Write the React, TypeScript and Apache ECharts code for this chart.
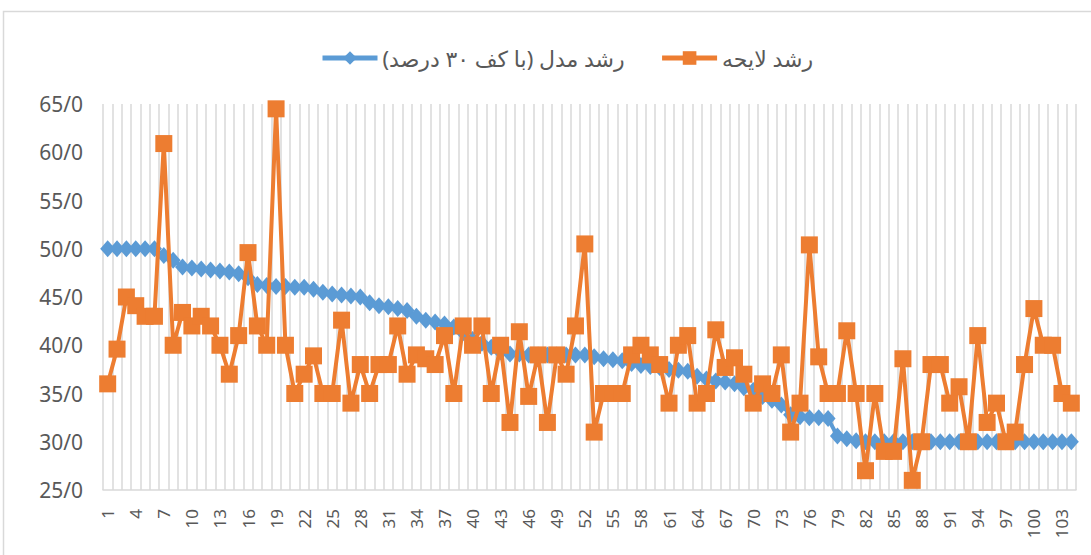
import React, { useEffect, useRef } from "react";
import * as echarts from "echarts";

const categories: string[] = Array.from({ length: 104 }, (_, i) => String(i + 1));

const modelGrowth: number[] = [
  50, 50, 50, 50, 50, 50, 49.3, 48.8, 48.1, 48.0,
  47.9, 47.8, 47.7, 47.6, 47.4, 47.0, 46.3, 46.2, 46.1, 46.1,
  46.0, 46.0, 45.8, 45.5, 45.3, 45.2, 45.1, 45.0, 44.4, 44.1,
  44.0, 43.8, 43.6, 43.0, 42.6, 42.4, 42.2, 41.9, 41.3, 40.6,
  40.2, 39.8, 39.3, 39.1, 39.1, 39.0, 39.0, 39.0, 39.0, 39.0,
  39.0, 39.0, 38.8, 38.6, 38.5, 38.4, 38.1, 37.9, 37.8, 37.7,
  37.5, 37.4, 37.3, 36.8, 36.5, 36.3, 36.2, 36.0, 35.6, 35.3,
  34.7, 34.3, 33.8, 32.8, 32.6, 32.5, 32.5, 32.4, 30.6, 30.3,
  30.1, 30, 30, 30, 30, 30, 30, 30, 30, 30,
  30, 30, 30, 30, 30, 30, 30, 30, 30, 30,
  30, 30, 30, 30,
];

const billGrowth: number[] = [
  36.0, 39.6, 45.0, 44.1, 43.0, 43.0, 60.9, 40.0, 43.4, 42.0,
  43.0, 42.0, 40.0, 37.0, 41.0, 49.6, 42.0, 40.0, 64.5, 40.0,
  35.0, 37.0, 38.9, 35.0, 35.0, 42.6, 34.0, 38.0, 35.0, 38.0,
  38.0, 42.0, 37.0, 39.0, 38.6, 38.0, 41.0, 35.0, 42.0, 40.0,
  42.0, 35.0, 40.0, 32.0, 41.4, 34.7, 39.0, 32.0, 39.0, 37.0,
  42.0, 50.5, 31.0, 35.0, 35.0, 35.0, 39.0, 40.0, 39.0, 38.0,
  34.0, 40.0, 41.0, 34.0, 35.0, 41.6, 37.7, 38.7, 37.0, 34.0,
  36.0, 35.0, 39.0, 31.0, 34.0, 50.4, 38.8, 35.0, 35.0, 41.5,
  35.0, 27.0, 35.0, 29.0, 29.0, 38.6, 26.0, 30.0, 38.0, 38.0,
  34.0, 35.7, 30.0, 41.0, 32.0, 34.0, 30.0, 31.0, 38.0, 43.8,
  40.0, 40.0, 35.0, 34.0,
];

const seriesNames: string[] = ["رشد مدل (با کف ۳۰ درصد)", "رشد لایحه"];

export default function App() {
  const ref = useRef<HTMLDivElement>(null);

  useEffect(() => {
    document.body.style.margin = "0";
    if (!ref.current) return;
    const chart = echarts.init(ref.current, undefined, { renderer: "svg" });
    const font = "'Noto Sans', 'DejaVu Sans', sans-serif";
    chart.setOption({
      animation: false,
      backgroundColor: "#ffffff",
      textStyle: { fontFamily: font },
      graphic: [
        {
          type: "rect",
          shape: { x: 3.5, y: 11.5, width: 1200, height: 700 },
          style: { fill: "none", stroke: "#d9d9d9", lineWidth: 1.5 },
          silent: true,
        },
      ],
      legend: {
        left: 315,
        top: 42,
        itemWidth: 55,
        itemHeight: 17,
        itemGap: 35,
        lineStyle: { width: 5 },
        textStyle: { fontSize: 22, color: "#595959", fontFamily: font },
        data: seriesNames,
      },
      grid: { left: 103, right: 15, top: 104, bottom: 65, containLabel: false },
      xAxis: {
        type: "category",
        data: categories,
        boundaryGap: true,
        axisLine: { show: true, lineStyle: { color: "#d9d9d9", width: 1.5 } },
        axisTick: { show: false },
        splitLine: { show: true, interval: 0, lineStyle: { color: "#d9d9d9", width: 1.5 } },
        axisLabel: {
          interval: 2,
          rotate: 90,
          margin: 19,
          fontSize: 17,
          color: "#595959",
          fontFamily: font,
        },
      },
      yAxis: {
        type: "value",
        min: 25,
        max: 65,
        interval: 5,
        axisLine: { show: false },
        axisTick: { show: false },
        splitLine: { show: false },
        axisLabel: {
          margin: 20,
          fontSize: 21,
          color: "#595959",
          fontFamily: font,
          formatter: (v: number) => `${v}/0`,
        },
      },
      series: [
        {
          name: seriesNames[0],
          type: "line",
          data: modelGrowth,
          symbol: "diamond",
          symbolSize: [15, 17],
          showAllSymbol: true,
          lineStyle: { color: "#5B9BD5", width: 4 },
          itemStyle: { color: "#5B9BD5" },
          z: 2,
        },
        {
          name: seriesNames[1],
          type: "line",
          data: billGrowth,
          symbol: "rect",
          symbolSize: 17,
          showAllSymbol: true,
          lineStyle: { color: "#ED7D31", width: 4 },
          itemStyle: { color: "#ED7D31" },
          z: 3,
        },
      ],
    });
    return () => chart.dispose();
  }, []);

  return <div ref={ref} style={{ width: 1091, height: 555 }} />;
}
